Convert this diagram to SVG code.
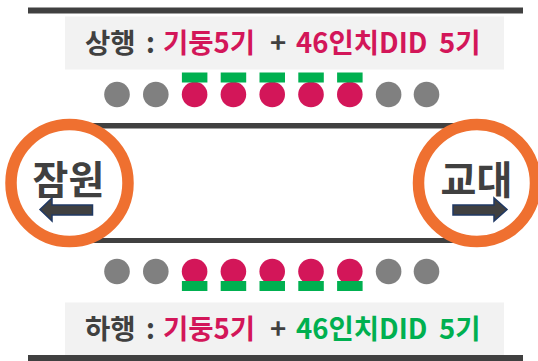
<svg xmlns="http://www.w3.org/2000/svg" width="538" height="361" viewBox="0 0 538 361">
<style>
.bar{fill:#404040}
.box{fill:#f2f2f2}
.lbl{font-family:"Noto Sans CJK KR","Noto Sans",sans-serif;font-weight:bold;font-size:27.5px;fill:#404040}
.red{fill:#d31659}
.grn{fill:#00b050}
.gray{fill:#808080}
.stn{fill:#fff;stroke:#ef7030;stroke-width:11.5}
.stxt{font-family:"Noto Sans CJK KR","Noto Sans",sans-serif;font-weight:bold;font-size:39px;fill:#404040;text-anchor:middle}
.arr{fill:#404040;stroke:#1f3864;stroke-width:1.5}
</style>
<rect class="bar" x="28" y="7.5" width="495" height="6"/>
<rect class="bar" x="28" y="355" width="495" height="6"/>
<g id="connectors">
<rect class="bar" x="80" y="123" width="400" height="5.5"/>
<rect class="bar" x="80" y="238" width="400" height="5"/>
</g>
<g id="up-label">
<rect class="box" x="65" y="16.5" width="439" height="53"/>
<text class="lbl" y="53"><tspan x="85">상행</tspan><tspan x="146">:</tspan><tspan x="163" class="red">기둥5기</tspan><tspan x="270">+</tspan><tspan x="296" class="red">46인치DID</tspan><tspan x="439" class="red">5기</tspan></text>
</g>
<g id="up-dots">
<circle class="gray" cx="117" cy="94.5" r="12.8"/>
<circle class="gray" cx="155.8" cy="94.5" r="12.8"/>
<circle class="red" cx="194.6" cy="94.5" r="12.8"/>
<circle class="red" cx="233.4" cy="94.5" r="12.8"/>
<circle class="red" cx="272.2" cy="94.5" r="12.8"/>
<circle class="red" cx="311" cy="94.5" r="12.8"/>
<circle class="red" cx="349.8" cy="94.5" r="12.8"/>
<circle class="gray" cx="388.6" cy="94.5" r="12.8"/>
<circle class="gray" cx="426.5" cy="94.5" r="12.8"/>
<rect class="grn" x="181.9" y="72.5" width="25.5" height="10"/>
<rect class="grn" x="220.7" y="72.5" width="25.5" height="10"/>
<rect class="grn" x="259.5" y="72.5" width="25.5" height="10"/>
<rect class="grn" x="298.3" y="72.5" width="25.5" height="10"/>
<rect class="grn" x="337.1" y="72.5" width="25.5" height="10"/>
</g>
<g id="down-dots">
<circle class="gray" cx="117" cy="271.5" r="12.8"/>
<circle class="gray" cx="155.8" cy="271.5" r="12.8"/>
<circle class="red" cx="194.6" cy="271.5" r="12.8"/>
<circle class="red" cx="233.4" cy="271.5" r="12.8"/>
<circle class="red" cx="272.2" cy="271.5" r="12.8"/>
<circle class="red" cx="311" cy="271.5" r="12.8"/>
<circle class="red" cx="349.8" cy="271.5" r="12.8"/>
<circle class="gray" cx="388.6" cy="271.5" r="12.8"/>
<circle class="gray" cx="426.5" cy="271.5" r="12.8"/>
<rect class="grn" x="181.9" y="281" width="25.5" height="10"/>
<rect class="grn" x="220.7" y="281" width="25.5" height="10"/>
<rect class="grn" x="259.5" y="281" width="25.5" height="10"/>
<rect class="grn" x="298.3" y="281" width="25.5" height="10"/>
<rect class="grn" x="337.1" y="281" width="25.5" height="10"/>
</g>
<g id="down-label">
<rect class="box" x="65" y="302.5" width="439" height="52.5"/>
<text class="lbl" y="339"><tspan x="85">하행</tspan><tspan x="146">:</tspan><tspan x="163" class="red">기둥5기</tspan><tspan x="270">+</tspan><tspan x="296" class="grn">46인치DID</tspan><tspan x="439" class="grn">5기</tspan></text>
</g>
<g id="jamwon">
<circle class="stn" cx="69.5" cy="183" r="58.5"/>
<text class="stxt" x="68.5" y="194">잠원</text>
<polygon class="arr" points="40,209.5 52,198 52,205 92.5,205 92.5,215 52,215 52,221"/>
</g>
<g id="gyodae">
<circle class="stn" cx="477" cy="183" r="58.5"/>
<text class="stxt" x="476.5" y="194">교대</text>
<polygon class="arr" points="453,205 494,205 494,198 507,209.5 494,221 494,215 453,215"/>
</g>
</svg>
